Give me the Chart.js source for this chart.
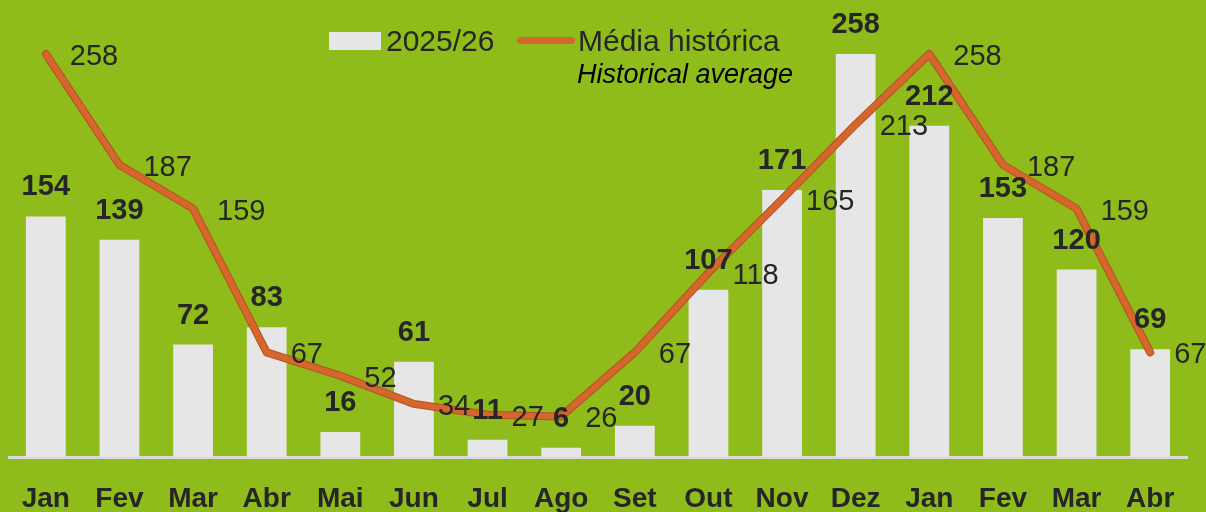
<!DOCTYPE html>
<html>
<head>
<meta charset="utf-8">
<script src="https://cdn.jsdelivr.net/npm/chart.js@4"></script>
<style>
    html, body { margin: 0; padding: 0; background: #8fbc1a; }
    #wrap { position: relative; width: 1206px; height: 512px; }
    .lg { position: absolute; font-family: 'Liberation Sans', Arial, sans-serif; color: #262626; white-space: nowrap; line-height: 1; }
</style>
</head>
<body>
<div id="wrap">
    <canvas id="chart"></canvas>
    <div class="lg" style="left:329px;top:32px;width:52px;height:18px;background:#e6e6e6;"></div>
    <div class="lg" style="left:386px;top:26px;font-size:30px;">2025/26</div>
    <div class="lg" style="left:517px;top:37px;width:58px;height:7px;border-radius:4px;background:#d4662e;"></div>
    <div class="lg" style="left:578px;top:26px;font-size:30px;">Média histórica</div>
    <div class="lg" style="right:413px;top:61px;font-size:27px;font-style:italic;color:#000;">Historical average</div>
</div>
<script>
const months = ['Jan', 'Fev', 'Mar', 'Abr', 'Mai', 'Jun', 'Jul', 'Ago', 'Set', 'Out', 'Nov', 'Dez', 'Jan', 'Fev', 'Mar', 'Abr'];
const season = [154, 139, 72, 83, 16, 61, 11, 6, 20, 107, 171, 258, 212, 153, 120, 69];
const historical = [258, 187, 159, 67, 52, 34, 27, 26, 67, 118, 165, 213, 258, 187, 159, 67];

const FONT = "'Liberation Sans', Arial, sans-serif";

// value labels: bold above the bars, regular to the right of the line points
const valueLabels = {
    id: 'valueLabels',
    afterDatasetsDraw(chart) {
        const ctx = chart.ctx;
        ctx.save();
        ctx.fillStyle = '#262626';
        ctx.textBaseline = 'middle';
        ctx.font = 'bold 29px ' + FONT;
        ctx.textAlign = 'center';
        chart.getDatasetMeta(0).data.forEach((bar, i) => {
            ctx.fillText(season[i], bar.x, bar.y - 29);
        });
        ctx.font = '29px ' + FONT;
        ctx.textAlign = 'left';
        chart.getDatasetMeta(2).data.forEach((pt, i) => {
            ctx.fillText(historical[i], pt.x + 24, pt.y + 3);
        });
        ctx.restore();
    },
};

new Chart(document.getElementById('chart'), {
    data: {
        labels: months,
        datasets: [{
            type: 'bar',
            label: '2025/26',
            data: season,
            backgroundColor: '#e6e6e6',
            barPercentage: 0.54,
            categoryPercentage: 1,
            order: 3,
        }, {
            type: 'line',
            label: 'outline',
            data: historical,
            borderColor: '#b5531f',
            borderWidth: 8,
            pointRadius: 0,
            borderCapStyle: 'round',
            borderJoinStyle: 'round',
            order: 2,
        }, {
            type: 'line',
            label: 'Média histórica',
            data: historical,
            borderColor: '#d4662e',
            borderWidth: 6,
            pointRadius: 0,
            borderCapStyle: 'round',
            borderJoinStyle: 'round',
            order: 1,
        }],
    },
    options: {
        responsive: true,
        maintainAspectRatio: false,
        animation: false,
        layout: { padding: { left: 9, right: 19, top: 4, bottom: 0 } },
        plugins: {
            legend: { display: false },
            tooltip: { enabled: false },
        },
        scales: {
            x: {
                grid: { display: false, drawTicks: false },
                border: { display: true, color: '#d9d9d9', width: 3 },
                ticks: {
                    color: '#262626',
                    padding: 25,
                    maxRotation: 0,
                    minRotation: 0,
                    autoSkip: false,
                    font: { family: FONT, size: 28, weight: 'bold' },
                },
                afterFit: (scale) => {
                    scale.height = 55;
                    scale.paddingLeft = 0;
                    scale.paddingRight = 0;
                },
            },
            y: {
                display: false,
                min: 0,
                max: 290,
            },
        },
    },
    plugins: [valueLabels],
});
</script>
</body>
</html>
